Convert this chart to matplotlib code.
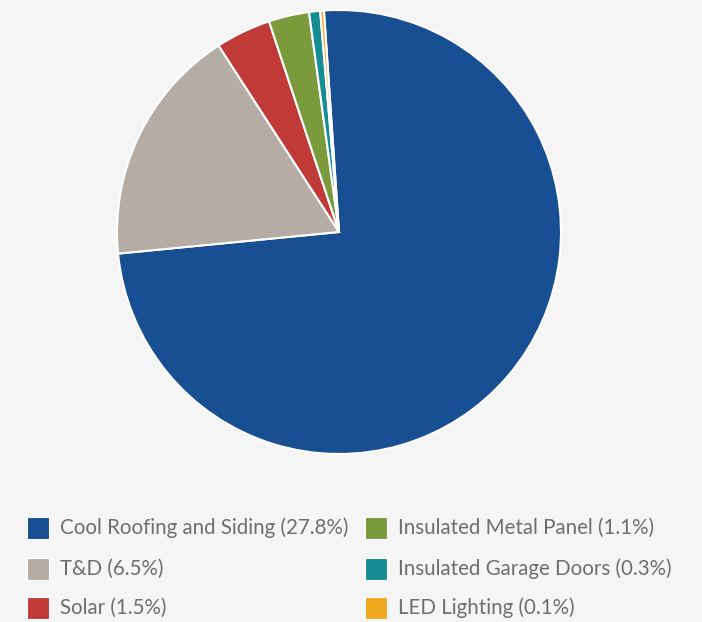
import matplotlib
matplotlib.use('Agg')
from matplotlib import pyplot as plt
from matplotlib.patches import Rectangle

LABELS = ['Cool Roofing and Siding', 'T&D', 'Solar',
          'Insulated Metal Panel', 'Insulated Garage Doors', 'LED Lighting']
VALUES = [27.8, 6.5, 1.5, 1.1, 0.3, 0.1]
COLORS = ['#174f92', '#b5aca5', '#c03a37', '#7a9a3c', '#148e93', '#f0a81f']
BG = '#f5f5f5'
TEXT = '#6d6e71'

W, H = 702, 622
fig = plt.figure(figsize=(W / 100, H / 100), dpi=100, facecolor=BG)

# pie: centre (339, 232) px, radius 222 px
cx, cy, r = 339, 232, 222
ax = fig.add_axes([(cx - r) / W, (H - cy - r) / H, 2 * r / W, 2 * r / H])
ax.set_facecolor(BG)
ax.pie(VALUES, colors=COLORS, startangle=93.9, counterclock=False, radius=1,
       wedgeprops=dict(edgecolor='white', linewidth=1.5))
ax.set_xlim(-1, 1)
ax.set_ylim(-1, 1)
ax.set_aspect('equal')
ax.axis('off')

# legend, two columns of three
col_x = [27, 365]
row_y = [528, 569, 608]
sq = 22
for i, (lab, val, c) in enumerate(zip(LABELS, VALUES, COLORS)):
    x0 = col_x[i // 3]
    y0 = row_y[i % 3]
    fig.patches.append(Rectangle((x0 / W, (H - y0 - sq / 2) / H), sq / W, sq / H,
                                 transform=fig.transFigure, facecolor=c,
                                 edgecolor='white', linewidth=0.8))
    fig.text((x0 + 33) / W, (H - y0) / H, f'{lab} ({val}%)', fontsize=14.8,
             family='Lato', color=TEXT, va='center', ha='left')

fig.savefig('out.png', dpi=100, facecolor=BG)
plt.close()
